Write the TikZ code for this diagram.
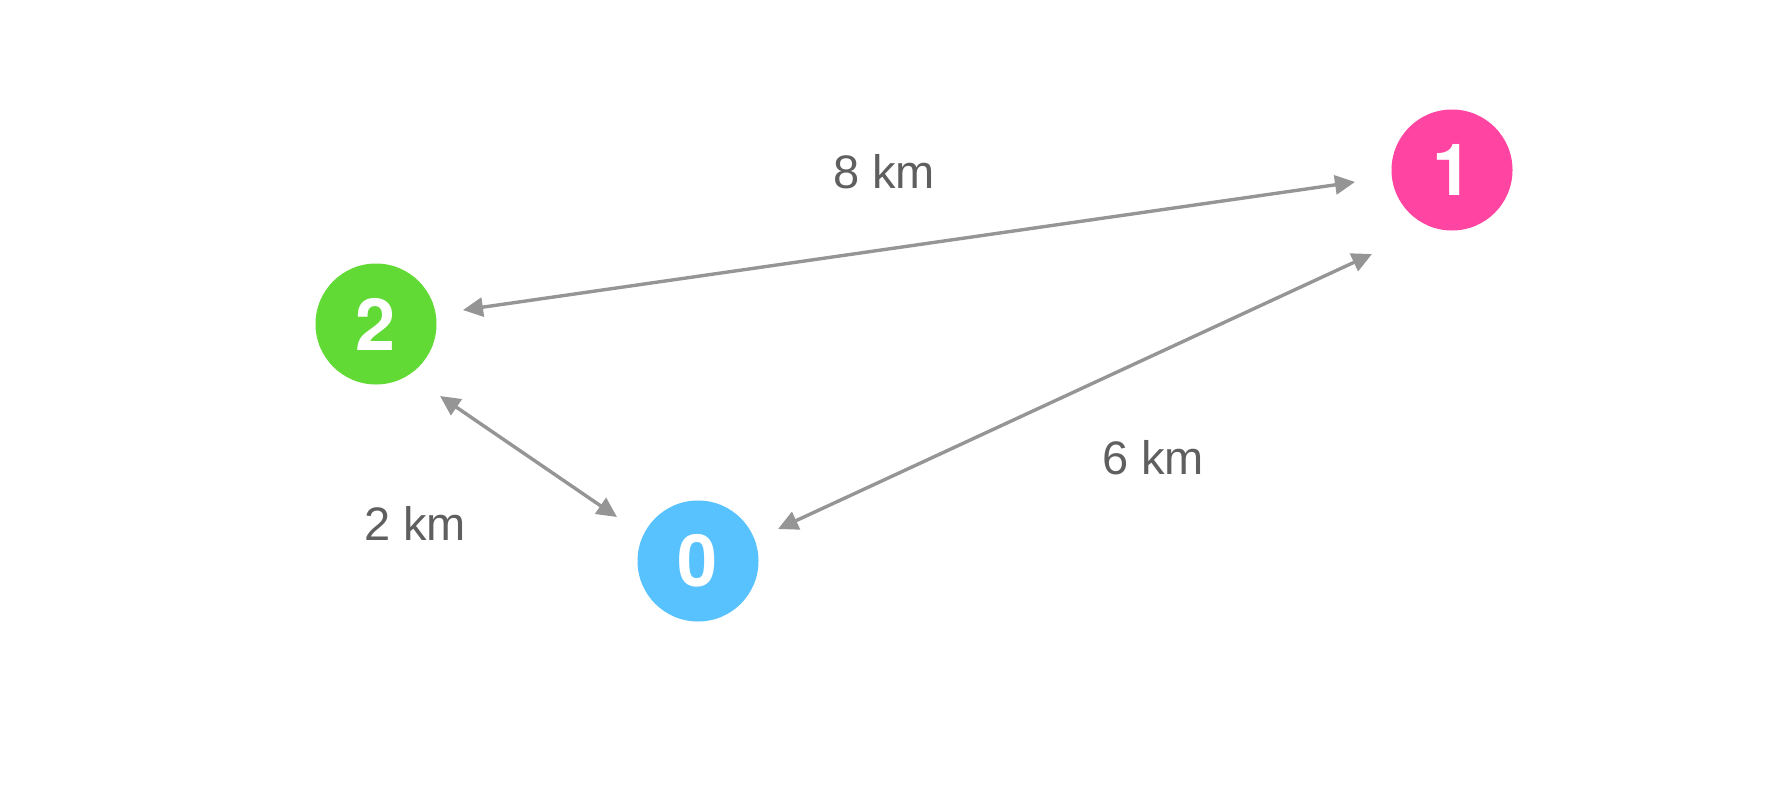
\documentclass[tikz,border=0pt]{standalone}
\usepackage{fontspec}
\setmainfont{Liberation Sans}
\newfontfamily\numfont{TeX Gyre Heros}
\usetikzlibrary{arrows.meta,calc}
\definecolor{cgreen}{HTML}{62DA36}
\definecolor{cpink}{HTML}{FF44A1}
\definecolor{cblue}{HTML}{58C2FF}
\definecolor{cedge}{HTML}{959595}
\definecolor{clabel}{HTML}{5F5F5F}
\tikzset{
  city/.style={circle, minimum size=121pt, inner sep=0pt, text=white,
    font=\numfont\fontsize{72}{72}\selectfont\bfseries},
  dist/.style={draw=cedge, line width=3.4pt,
    {Triangle[length=20pt,width=19pt]}-{Triangle[length=20pt,width=19pt]}},
  lbl/.style={text=clabel, font=\fontsize{47}{47}\selectfont, inner sep=0pt}
}
\begin{document}
\begin{tikzpicture}[x=1pt,y=-1pt]
\useasboundingbox (0,0) rectangle (1772,796);
\node[city, fill=cgreen] (n2) at (376,324) {2};
\node[city, fill=cpink] (n1) at (1452,170) {1};
\node[city, fill=cblue] (n0) at (698,561) {0};
\coordinate (t21a) at ($(n2)+(87,-14)$);
\coordinate (t21b) at ($(n1)+(-97,12)$);
\coordinate (t20a) at ($(n2)+(64,72)$);
\coordinate (t20b) at ($(n0)+(-81,-44)$);
\coordinate (t01a) at ($(n0)+(80,-32)$);
\coordinate (t01b) at ($(n1)+(-80,84)$);
\draw[dist] (t21a) -- (t21b);
\draw[dist] (t20a) -- (t20b);
\draw[dist] (t01a) -- (t01b);
\node[lbl] (l8) at (884,172) {8 km};
\node[lbl] (l6) at (1153,458) {6 km};
\node[lbl] (l2) at (415,523) {2 km};
\end{tikzpicture}
\end{document}
